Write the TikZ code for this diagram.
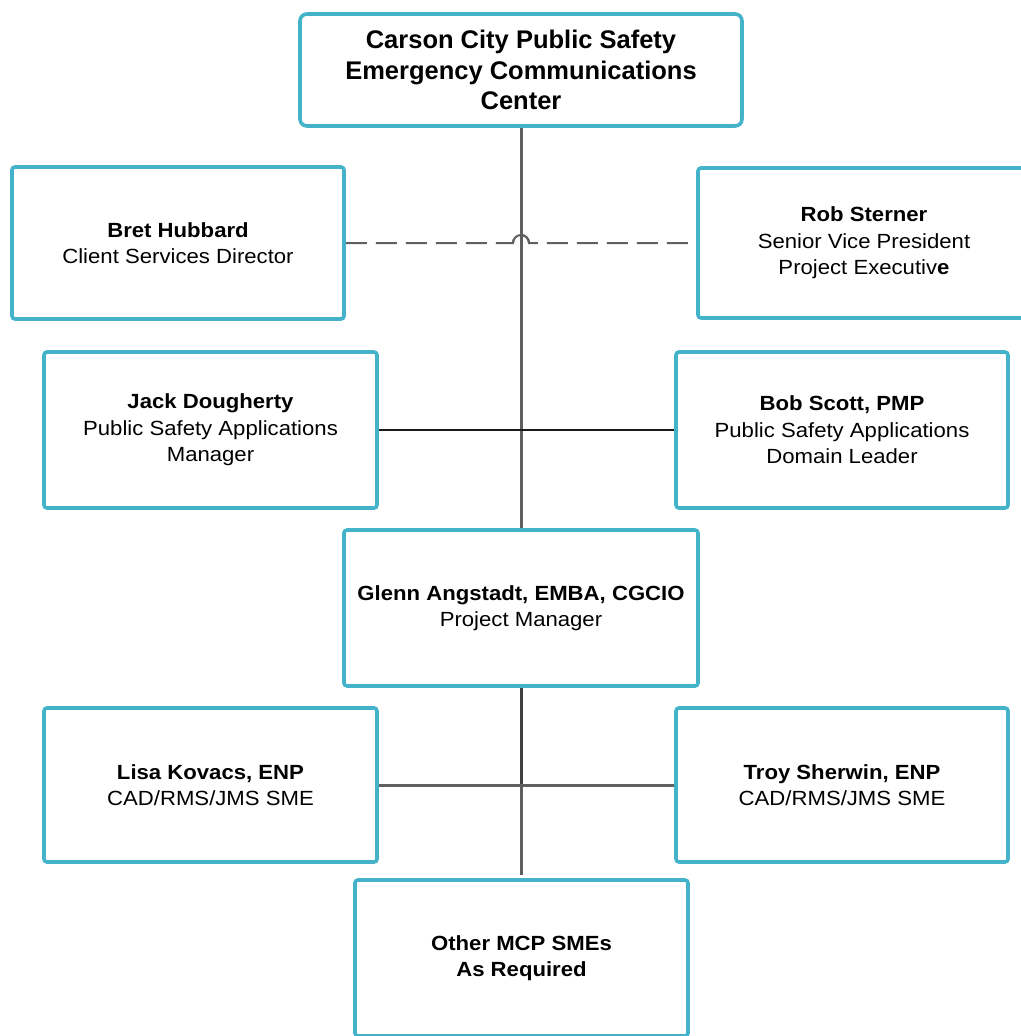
\documentclass[tikz,border=0pt]{standalone}
\usepackage{fontspec}
\setmainfont{Liberation Sans}
\newfontfamily\widefont{Liberation Sans}[FakeStretch=1.08]
\definecolor{boxcyan}{HTML}{44B3CA}
\definecolor{lineg}{HTML}{606060}
\begin{document}
\begin{tikzpicture}[x=1pt,y=-1pt,
  box/.style={draw=boxcyan, line width=3.6pt, fill=white, rounded corners=3pt, align=center,
    font=\widefont\fontsize{20.5}{26.5}\selectfont, inner sep=0pt},
  topbox/.style={box, rounded corners=7pt, font=\fontsize{25.5}{30.5}\selectfont\bfseries},
  conn/.style={draw=lineg, line width=3pt},
  thinconn/.style={draw=black!90, line width=1.6pt},
  dashconn/.style={draw=lineg, line width=2pt, dash pattern=on 21pt off 9pt},
  hopconn/.style={draw=lineg, line width=2pt}]
\useasboundingbox (0,0) rectangle (1020,1036);
\node[topbox, minimum width=442pt, minimum height=112pt] (top) at (521,70)
  {Carson City Public Safety\\Emergency Communications\\Center};
\node[box, minimum width=332pt, minimum height=152pt] (bret) at (178,243)
  {\textbf{Bret Hubbard}\\Client Services Director};
\node[box, minimum width=332pt, minimum height=150pt] (rob) at (864,243)
  {\textbf{Rob Sterner}\\Senior Vice President\\Project Executiv\textbf{e}};
\node[box, minimum width=333pt, minimum height=156pt] (jack) at (210.5,430)
  {\textbf{Jack Dougherty}\\Public Safety Applications\\Manager};
\node[box, minimum width=332pt, minimum height=156pt] (bob) at (842,430)
  {\textbf{Bob Scott, PMP}\\Public Safety Applications\\Domain Leader};
\node[box, minimum width=354pt, minimum height=156pt] (glenn) at (521,608)
  {\textbf{Glenn Angstadt, EMBA, CGCIO}\\Project Manager};
\node[box, minimum width=333pt, minimum height=154pt] (lisa) at (210.5,785)
  {\textbf{Lisa Kovacs, ENP}\\CAD/RMS/JMS SME};
\node[box, minimum width=332pt, minimum height=154pt] (troy) at (842,785)
  {\textbf{Troy Sherwin, ENP}\\CAD/RMS/JMS SME};
\node[box, minimum width=333pt, minimum height=156pt] (other) at (521.5,958)
  {\textbf{Other MCP SMEs}\\\textbf{As Required}};
\coordinate (hop) at (521,243);
\coordinate (otherin) at (521,875);
\draw[conn] (top.south) -- (glenn.north);
\draw[conn, draw=black!75] (glenn.south) -- (glenn.south |- lisa.east);
\draw[conn] (glenn.south |- lisa.east) -- (otherin);
\draw[conn] (lisa.east) -- (troy.west);
\draw[thinconn] (jack.east) -- (bob.west);
\draw[dashconn] (bret.east) -- ([xshift=-8pt]hop) arc[start angle=180, end angle=0, radius=8pt] -- (rob.west);
\draw[hopconn] ([xshift=-8pt]hop) arc[start angle=180, end angle=0, radius=8pt];
\end{tikzpicture}
\end{document}
